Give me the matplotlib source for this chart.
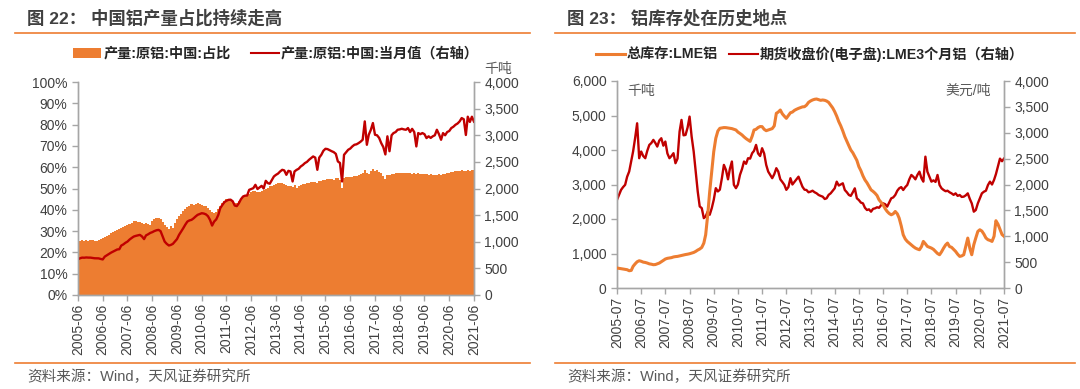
import matplotlib
matplotlib.use("Agg")
import matplotlib.pyplot as plt
import matplotlib.dates as mdates
from matplotlib.lines import Line2D
from matplotlib.patches import Patch
from matplotlib.ticker import FuncFormatter, MultipleLocator
import pandas as pd

plt.rcParams['font.family'] = ['Liberation Sans', 'Noto Sans CJK SC', 'DejaVu Sans']

# ---------------- Chart 1 data (monthly, 2005-06 .. 2021-06) ----------------
left_start = '2005-06-01'
share_pct = [
    25.1, 25.3, 25.6, 25.4, 25.8, 25.5, 25.9,
    25.6, 25.3, 25.5, 25.8, 26.2, 26.6, 27.0, 27.8, 28.4, 29.0, 29.6, 30.1,
    30.5, 30.8, 31.5, 32.0, 32.4, 32.9, 33.5, 34.0, 34.6, 34.8, 34.3, 34.5,
    34.0, 33.5, 33.8, 33.3, 33.0, 34.6, 35.8, 36.2, 36.0, 35.6, 34.5, 32.8,
    31.8, 31.2, 32.5, 31.5, 33.8, 35.9, 37.0, 38.2, 39.5, 40.5, 41.5, 42.0,
    42.5, 42.2, 42.8, 43.2, 42.9, 42.4, 42.0, 41.6, 41.0, 40.1, 39.0, 38.3,
    39.2, 40.6, 41.8, 43.0, 44.2, 45.1, 44.9, 44.6, 43.8, 43.1, 43.4, 43.9,
    44.8, 45.8, 46.4, 47.0, 47.6, 48.3, 48.6, 48.7, 48.2, 48.5, 49.0, 49.4,
    50.0, 50.2, 51.0, 51.3, 51.7, 52.2, 52.4, 52.8, 52.5, 52.0, 51.6, 51.4,
    51.2, 50.8, 51.5, 50.4, 51.2, 51.6, 52.0, 52.3, 52.6, 52.8, 53.0, 53.1,
    53.2, 52.8, 53.5, 53.6, 53.9, 54.1, 54.3, 54.5, 54.6, 54.2, 54.8, 55.0,
    54.2, 50.2, 55.0, 55.2, 55.4, 55.5, 55.6, 55.8, 56.0, 56.3, 56.9, 57.5,
    58.8, 57.2, 57.0, 58.2, 59.0, 58.0, 58.6, 57.8, 57.5, 56.0, 54.6, 56.2,
    56.5, 56.8, 57.0, 57.2, 57.3, 57.3, 57.4, 57.2, 57.3, 57.4, 57.2, 57.0,
    57.1, 56.9, 57.2, 57.0, 56.6, 56.9, 57.0, 56.5, 56.7, 56.4, 56.5, 56.5,
    56.6, 56.4, 56.8, 57.0, 57.1, 57.4, 57.6, 57.8, 58.0, 58.2, 58.4, 58.5,
    58.3, 58.4, 58.5, 58.4, 58.5, 58.6,
]
output_kt = [
    671, 690, 702, 700, 705, 702, 702,
    695, 690, 690, 688, 677, 668, 721, 745, 771, 795, 815, 834,
    855, 860, 928, 950, 980, 1003, 1040, 1070, 1097, 1110, 1120, 1129,
    1100, 1050, 1120, 1140, 1165, 1180, 1200, 1215, 1223, 1200, 1100, 1003,
    960, 930, 940, 960, 1003, 1050, 1129, 1190, 1254, 1320, 1379, 1400,
    1411, 1440, 1473, 1505, 1520, 1536, 1530, 1515, 1480, 1411, 1304, 1379,
    1420, 1505, 1630, 1690, 1743, 1770, 1787, 1790, 1760, 1680, 1670, 1724,
    1800, 1850, 1865, 1868, 1975, 1990, 2006, 2069, 1990, 2020, 2050, 2000,
    2144, 2100, 2090, 2160, 2226, 2257, 2280, 2320, 2351, 2340, 2257, 2332,
    2320, 2132, 2320, 2350, 2370, 2414, 2440, 2477, 2500, 2539, 2570, 2602,
    2580, 2351, 2580, 2633, 2708, 2746, 2740, 2720, 2700, 2683, 2650, 2508,
    2480, 2132, 2633, 2680, 2727, 2750, 2790, 2821, 2830, 2852, 2880, 2915,
    3260, 2821, 3009, 3103, 3229, 3009, 3000, 2950, 2852, 2780, 2640, 2980,
    2700, 3000, 3041, 3060, 3103, 3110, 3122, 3110, 3103, 3135, 3060, 3120,
    3060, 2790, 3041, 3020, 3041, 3020, 2947, 2980, 2950, 2980, 3000, 3103,
    3020, 2915, 3040, 3000, 3060, 3080, 3135, 3160, 3197, 3220, 3260, 3323,
    3300, 3005, 3348, 3250, 3348, 3255,
]

# ---------------- Chart 2 data (monthly, 2005-07 .. 2021-07) ----------------
right_start = '2005-07-01'
lme_stock_kt = [
    579, 570, 560, 550, 540, 530,
    500, 510, 627, 700, 760, 790, 775, 750, 740, 723, 700, 690,
    675, 680, 700, 723, 760, 800, 840, 860, 870, 880, 900, 910,
    916, 930, 940, 960, 970, 980, 993, 1010, 1030, 1060, 1100, 1130,
    1176, 1300, 1543, 2120, 2797, 3375, 3954, 4340, 4550, 4629, 4640, 4650,
    4648, 4640, 4630, 4620, 4600, 4580, 4520, 4480, 4436, 4380, 4330, 4291,
    4250, 4400, 4580, 4600, 4650, 4680, 4677, 4600, 4560, 4580, 4600, 4620,
    4700, 5063, 5100, 5159, 5050, 4980, 4918, 5000, 5080, 5100, 5150, 5180,
    5207, 5230, 5250, 5255, 5300, 5380, 5420, 5450, 5470, 5478, 5460, 5440,
    5450, 5440, 5420, 5380, 5300, 5220, 5112, 4980, 4822, 4700, 4550, 4388,
    4250, 4120, 4002, 3920, 3809, 3700, 3520, 3400, 3250, 3134, 3050, 2950,
    2845, 2800, 2749, 2680, 2556, 2480, 2411, 2300, 2218, 2160, 2122, 2150,
    2218, 2150, 2025, 1800, 1543, 1420, 1350, 1300, 1254, 1200, 1157, 1130,
    1109, 1200, 1350, 1280, 1205, 1180, 1157, 1120, 1061, 1000, 964, 1050,
    1157, 1250, 1302, 1200, 1180, 1120, 1061, 980, 916, 930, 964, 1200,
    1447, 1150, 964, 1254, 1450, 1640, 1688, 1650, 1560, 1450, 1399, 1380,
    1350, 1500, 1950, 1850, 1700, 1550, 1500,
]
lme_price_usd = [
    1704, 1800, 1897, 1950, 1994, 2150,
    2251, 2450, 2637, 2900, 3183, 2508, 2637, 2550, 2508, 2650, 2765, 2800,
    2862, 2800, 2733, 2850, 2894, 2750, 2830, 2600, 2508, 2550, 2605, 2411,
    2500, 3023, 3248, 2950, 2958, 3100, 3312, 2926, 2637, 2251, 1865, 1576,
    1543, 1350, 1383, 1479, 1415, 1543, 1704, 1929, 1865, 1900, 2122, 2379,
    2283, 2100, 2300, 2444, 1994, 1929, 2000, 2186, 2300, 2444, 2400, 2508,
    2500, 2605, 2650, 2765, 2600, 2550, 2701, 2600, 2379, 2250, 2186, 2122,
    2200, 2315, 2250, 2100, 2050, 1994, 1897, 1950, 2122, 2000, 2050, 2100,
    2151, 2050, 1958, 1900, 1894, 1850, 1861, 1880, 1850, 1830, 1797, 1780,
    1765, 1720, 1733, 1800, 1829, 1880, 1926, 2055, 1980, 2000, 2023, 1894,
    1850, 1797, 1780, 1850, 1926, 1733, 1700, 1650, 1636, 1550, 1507, 1520,
    1475, 1530, 1539, 1560, 1550, 1600, 1636, 1620, 1572, 1650, 1733, 1750,
    1797, 1880, 1926, 1950, 1894, 1950, 1990, 2100, 2184, 2150, 2100, 2184,
    2248, 2119, 2055, 2538, 2248, 2151, 2055, 2080, 2050, 2184, 1990, 1926,
    1894, 1870, 1880, 1850, 1829, 1800, 1829, 1780, 1797, 1760, 1765, 1790,
    1829, 1720, 1636, 1475, 1507, 1636, 1733, 1829, 1861, 1880, 1990, 2055,
    2000, 2090, 2200, 2350, 2500, 2450, 2500,
]

ORANGE = '#ED7D31'
RED = '#C00000'
SPINE = '#A6A6A6'
TXT = '#404040'
W, H = 1080, 389

fig = plt.figure(figsize=(W / 100, H / 100), dpi=100)


def fx(px):
    return px / W


def fy(py):
    return 1 - py / H


def style_axes(ax, ax2):
    for a in (ax, ax2):
        a.spines['top'].set_visible(False)
        for s in ('left', 'right', 'bottom'):
            a.spines[s].set_color(SPINE)
            a.spines[s].set_linewidth(1.0)
        a.tick_params(colors=SPINE, labelcolor=TXT, labelsize=10, length=4, width=1.0, direction='out')
    ax.tick_params(axis='x', labelrotation=90, pad=2)


# ---------------- Chart 1 ----------------
d1 = pd.date_range(left_start, periods=len(share_pct), freq='MS')
ax1 = fig.add_axes([fx(78), fy(295), fx(474 - 78), (295 - 82) / H])
ax1b = ax1.twinx()
ax1.fill_between(d1, 0, share_pct, step='mid', color=ORANGE, lw=0)
ax1b.plot(d1, output_kt, color=RED, lw=1.7)
ax1.set_xlim(d1[0], d1[-1])
ax1.set_ylim(0, 100)
ax1.yaxis.set_major_locator(MultipleLocator(10))
ax1.yaxis.set_major_formatter(FuncFormatter(lambda v, p: f'{v:.0f}%'))
ax1b.set_ylim(0, 4000)
ax1b.yaxis.set_major_locator(MultipleLocator(500))
ax1b.yaxis.set_major_formatter(FuncFormatter(lambda v, p: f'{v:,.0f}'))
ax1.xaxis.set_major_locator(mdates.MonthLocator(bymonth=6, bymonthday=1))
ax1.xaxis.set_major_formatter(mdates.DateFormatter('%Y-%m'))
style_axes(ax1, ax1b)

# ---------------- Chart 2 ----------------
d2 = pd.date_range(right_start, periods=len(lme_stock_kt), freq='MS')
ax2 = fig.add_axes([fx(617), fy(288), fx(1004 - 617), (288 - 81) / H])
ax2b = ax2.twinx()
ax2.plot(d2, lme_stock_kt, color=ORANGE, lw=2.2, zorder=3)
ax2b.plot(d2, lme_price_usd, color=RED, lw=1.7)
ax2.set_zorder(ax2b.get_zorder() + 1)
ax2.patch.set_visible(False)
ax2.set_xlim(d2[0], d2[-1])
ax2.set_ylim(0, 6000)
ax2.yaxis.set_major_locator(MultipleLocator(1000))
ax2.yaxis.set_major_formatter(FuncFormatter(lambda v, p: f'{v:,.0f}'))
ax2b.set_ylim(0, 4000)
ax2b.yaxis.set_major_locator(MultipleLocator(500))
ax2b.yaxis.set_major_formatter(FuncFormatter(lambda v, p: f'{v:,.0f}'))
ax2.xaxis.set_major_locator(mdates.MonthLocator(bymonth=7, bymonthday=1))
ax2.xaxis.set_major_formatter(mdates.DateFormatter('%Y-%m'))
style_axes(ax2, ax2b)

# ---------------- Titles, rules, sources ----------------
title_font = ['Liberation Sans', 'Noto Sans CJK SC']
fig.text(fx(27), fy(18), '图 22： 中国铝产量占比持续走高', fontsize=12.5, fontweight='bold',
         color=TXT, va='center', ha='left', family=title_font)
fig.text(fx(567), fy(18), '图 23： 铝库存处在历史地点', fontsize=12.5, fontweight='bold',
         color=TXT, va='center', ha='left', family=title_font)
for x0, x1 in ((15, 530), (555, 1075)):
    fig.add_artist(Line2D([fx(x0), fx(x1)], [fy(33), fy(33)], color=ORANGE, lw=1.2))
    fig.add_artist(Line2D([fx(x0), fx(x1)], [fy(363), fy(363)], color=ORANGE, lw=1.2))
fig.text(fx(27), fy(377), '资料来源：Wind，天风证券研究所', fontsize=10.5, color='#595959',
         va='center', ha='left', family=title_font)
fig.text(fx(567), fy(377), '资料来源：Wind，天风证券研究所', fontsize=10.5, color='#595959',
         va='center', ha='left', family=title_font)

# units
fig.text(fx(498), fy(69), '千吨', fontsize=10, color='#595959', ha='center', va='center', family=title_font)
fig.text(fx(641), fy(91), '千吨', fontsize=10, color='#595959', ha='center', va='center', family=title_font)
fig.text(fx(968), fy(91), '美元/吨', fontsize=10, color='#595959', ha='center', va='center', family=title_font)

# legends
leg_font = {'family': title_font, 'weight': 'bold', 'size': 10.2}
h1 = [Patch(facecolor=ORANGE, edgecolor='none'), Line2D([], [], color=RED, lw=1.5)]
fig.legend(h1, ['产量:原铝:中国:占比', '产量:原铝:中国:当月值（右轴）'], loc='center',
           bbox_to_anchor=(fx(276), fy(54)), ncol=2, frameon=False, prop=leg_font,
           handlelength=2.0, handleheight=0.8, handletextpad=0.15, columnspacing=1.4, labelcolor='#262626')
h2 = [Line2D([], [], color=ORANGE, lw=2.2), Line2D([], [], color=RED, lw=1.5)]
fig.legend(h2, ['总库存:LME铝', '期货收盘价(电子盘):LME3个月铝（右轴）'], loc='center',
           bbox_to_anchor=(fx(810), fy(54)), ncol=2, frameon=False, prop=leg_font,
           handlelength=2.0, handletextpad=0.15, columnspacing=0.8, labelcolor='#262626')

fig.savefig('out.png', dpi=100, facecolor='white')
